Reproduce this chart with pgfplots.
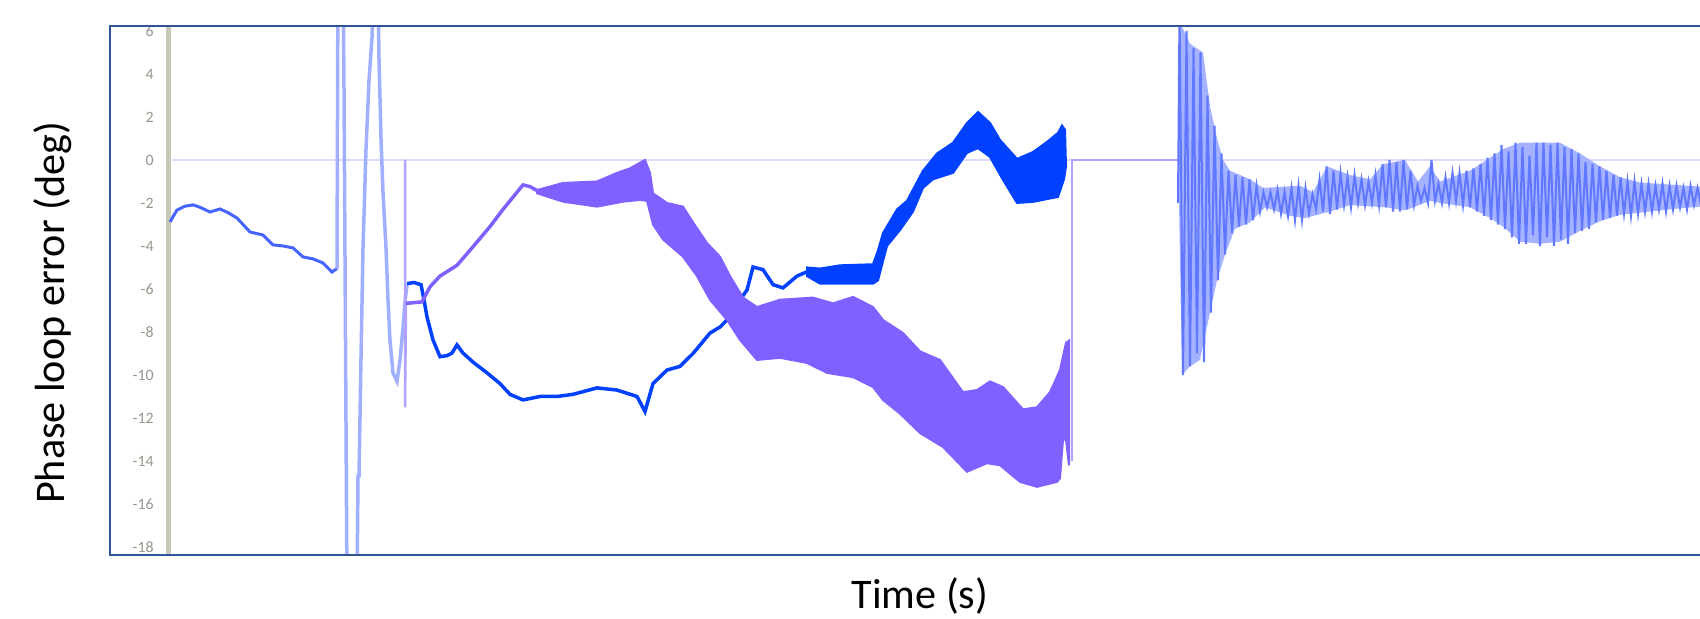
\documentclass[border=0pt]{standalone}
\usepackage{fontspec}
\setmainfont{Carlito}
\usepackage{pgfplots}
\pgfplotsset{compat=1.18}
\definecolor{frameblue}{RGB}{47,85,151}
\definecolor{bargray}{RGB}{200,200,182}
\definecolor{zeroline}{RGB}{222,218,255}
\definecolor{lineblue}{RGB}{70,100,255}
\definecolor{paleblue}{RGB}{160,176,255}
\definecolor{darkblue}{RGB}{0,64,255}
\definecolor{purp}{RGB}{128,96,255}
\definecolor{lav}{RGB}{178,162,255}
\definecolor{oscblue}{RGB}{95,120,255}
\definecolor{oscfill}{RGB}{165,178,255}
\definecolor{tickgray}{RGB}{150,150,140}
\begin{document}
\begin{tikzpicture}
\useasboundingbox (0,0) rectangle (170mm,61.9mm);
\begin{axis}[
  at={(11mm,6.4mm)}, anchor=south west,
  scale only axis, width=161mm, height=52.9mm,
  xmin=110, xmax=1720, ymin=-18.37, ymax=6.23,
  axis line style={draw=none},
  xtick=\empty,
  ytick={-18,-16,...,6},
  major tick length=0pt,
  /pgf/number format/assume math mode=true,
  yticklabel style={font=\fontsize{4.5}{5}\selectfont, text=tickgray, anchor=east, xshift=5.6mm},
  clip=true,
]
% zero reference line
\addplot[draw=zeroline, line width=0.25mm] coordinates {(172,0) (1720,0)};
% left gray bar
\addplot[draw=bargray, line width=0.5mm] coordinates {(168,-19) (168,7)};
% initial blue trace
\addplot[draw=lineblue, line width=0.3mm] coordinates {
(170,-2.88) (177,-2.33) (185,-2.15) (193,-2.09) (200,-2.2) (210,-2.42) (220,-2.28)
(228,-2.45) (237,-2.70) (250,-3.35) (263,-3.49) (273,-3.95) (283,-4.0) (293,-4.09)
(303,-4.51) (313,-4.6) (323,-4.79) (332,-5.21) (337,-5.05)};
% first oscillation (pale)
\addplot[draw=paleblue, line width=0.35mm] coordinates {
(337,-5.05) (338,9) (343,9) (344,3.3) (347,-20) (357,-20) (358,-14.7) (359,-14.7)
(361,-9.2) (363,-4.1) (366,0.5) (369,3.7) (372,5.7) (374,8) (378,8) (379,4.7)
(381,1) (383,-1.5) (386,-4.1) (388,-6.5) (390,-8.4) (393,-9.9) (397,-10.3)
(400,-9.3) (403,-7.8) (405,-6.6) (407,-5.8)};
% main blue trace
\addplot[draw=darkblue, line width=0.35mm] coordinates {
(407,-5.75) (414,-5.7) (421,-5.8) (424,-6.5) (427,-7.3) (433,-8.37) (440,-9.15)
(447,-9.1) (452,-8.98) (457,-8.6) (463,-8.98) (473,-9.4) (487,-9.9) (500,-10.4)
(510,-10.9) (523,-11.16) (540,-11.0) (557,-11.0) (573,-10.9) (597,-10.6) (617,-10.7)
(637,-11.0) (645,-11.7) (653,-10.4) (667,-9.77) (680,-9.6) (693,-9.0) (710,-8.05)
(720,-7.77) (727,-7.44) (740,-6.5) (747,-6.05) (753,-4.98) (763,-5.1) (773,-5.8)
(783,-5.95) (797,-5.4) (807,-5.2)};
% blue band
\addplot[draw=darkblue, line width=0.2mm, fill=darkblue] coordinates {
(807,-5.0) (820,-5.05) (840,-4.9) (873,-4.85) (878,-4.2) (883,-3.4) (897,-2.3)
(907,-1.9) (915,-1.2) (923,-0.5) (937,0.3) (953,0.8) (967,1.72) (978,2.23) (990,1.72)
(1000,0.93) (1017,0.05) (1033,0.37) (1047,0.84) (1058,1.26) (1062,1.6) (1065,1.4)
(1066,-0.3) (1064,-0.9) (1058,-1.72) (1033,-1.95) (1017,-2.0) (1003,-0.93) (990,0.14)
(978,0.55) (967,0.33) (953,-0.6) (933,-0.9) (923,-1.3) (913,-2.4) (900,-3.26)
(887,-4.0) (878,-5.6) (873,-5.75) (840,-5.75) (820,-5.75) (807,-5.4)} -- cycle;
% purple: thin vertical and rising line
\addplot[draw=lav, line width=0.25mm] coordinates {(405,0) (405,-11.5) (406,-6.67)};
\addplot[draw=purp, line width=0.35mm] coordinates {
(406,-6.67) (422,-6.6) (430,-5.9) (440,-5.4) (457,-4.9) (470,-4.2) (490,-3.1)
(503,-2.3) (523,-1.16) (530,-1.24) (538,-1.45)};
% purple band
\addplot[draw=purp, line width=0.2mm, fill=purp] coordinates {
(537,-1.4) (563,-1.07) (597,-1.0) (617,-0.6) (630,-0.39) (645,0.0) (650,-0.6)
(653,-1.55) (667,-2.0) (683,-2.17) (693,-2.9) (707,-3.86) (720,-4.5) (730,-5.4)
(743,-6.4) (757,-6.84) (780,-6.5) (813,-6.4) (833,-6.67) (853,-6.37) (873,-6.84)
(883,-7.44) (903,-8.05) (920,-8.9) (940,-9.3) (963,-10.8) (977,-10.7) (990,-10.3)
(1003,-10.56) (1023,-11.6) (1037,-11.5) (1050,-10.8) (1060,-9.77) (1066,-8.5) (1069,-8.4)
(1069,-14.2) (1066,-13.0) (1063,-13.0) (1060,-14.8) (1057,-14.97) (1037,-15.2)
(1020,-14.97) (1000,-14.2) (987,-14.1) (967,-14.5) (943,-13.35) (920,-12.7) (900,-11.8)
(883,-11.16) (873,-10.56) (853,-10.1) (827,-9.9) (807,-9.44) (780,-9.2) (757,-9.3)
(740,-8.37) (727,-7.44) (710,-6.5) (697,-5.4) (683,-4.5) (663,-3.7) (653,-3.0)
(647,-1.9) (640,-1.86) (623,-1.94) (597,-2.17) (563,-1.94) (537,-1.55)} -- cycle;
% purple return to zero
\addplot[draw=lav, line width=0.25mm] coordinates {(1072,-14) (1072,0) (1185,0)};
% second oscillation: envelope shade
\addplot[draw=none, fill=oscfill] coordinates {
(1179,6.5) (1190,5.4) (1203,5.0) (1210,2.5) (1217,1.0) (1223,0) (1230,-0.5) (1250,-0.9)
(1263,-1.3) (1300,-1.2) (1313,-1.5) (1327,-0.3) (1350,-0.7) (1370,-0.9) (1383,-0.2)
(1405,0) (1418,-1.0) (1430,-0.3) (1440,-1.0) (1470,-0.5) (1490,0.1) (1503,0.5)
(1520,0.8) (1560,0.8) (1580,0.3) (1600,-0.3) (1620,-0.8) (1640,-1.05) (1720,-1.3)
(1720,-2.1) (1680,-2.25) (1640,-2.45) (1620,-2.55) (1600,-2.85) (1580,-3.3) (1560,-3.8)
(1540,-3.9) (1520,-3.8) (1503,-3.1) (1490,-2.7) (1470,-2.2) (1440,-2.0) (1430,-1.9)
(1405,-2.35) (1385,-2.2) (1350,-2.1) (1330,-2.4) (1305,-2.7) (1290,-2.6) (1265,-2.2)
(1250,-2.9) (1235,-3.2) (1225,-4.4) (1217,-5.6) (1210,-7.1) (1200,-9.3) (1190,-9.6)
(1182,-10.0) (1179,-2)} -- cycle;
% second oscillation: strokes
\addplot[draw=oscblue, line width=0.2mm] coordinates {
(1178.0,-2) (1179.5,7) (1183,-10.0) (1186.5,6.0) (1190,-9.6) (1193.5,5.2) (1197,-9.0)
(1200.5,5.0) (1204,-9.4) (1207.5,3.0) (1211,-7.1) (1214.5,1.6) (1218,-5.6) (1221.5,0.3)
(1225,-4.4) (1228.5,-0.5) (1232,-3.4) (1235.5,-0.7) (1239,-3.1) (1242.5,-0.8) (1246,-3.0)
(1249.5,-0.9) (1253,-2.8) (1256.5,-1.2) (1260,-2.4) (1263.5,-1.5) (1267,-2.2) (1270.5,-1.5)
(1274,-2.3) (1277.5,-1.4) (1281,-2.5) (1284.5,-1.5) (1288,-2.6) (1291.5,-1.3) (1295,-2.8)
(1298.5,-1.2) (1302,-2.8) (1305.5,-1.3) (1309,-2.5) (1312.5,-1.6) (1316,-2.3) (1319.5,-0.9)
(1323,-2.4) (1326.5,-0.3) (1330,-2.5) (1333.5,-0.5) (1337,-2.3) (1340.5,-0.6) (1344,-2.1)
(1347.5,-0.8) (1351,-2.2) (1354.5,-0.7) (1358,-2.0) (1361.5,-0.9) (1365,-2.1) (1368.5,-1.0)
(1372,-2.0) (1375.5,-0.7) (1379,-2.1) (1382.5,-0.2) (1386,-2.2) (1389.5,0.0) (1393,-2.4)
(1396.5,-0.1) (1400,-2.4) (1403.5,0.0) (1407,-2.3) (1410.5,-0.5) (1414,-2.1) (1417.5,-1.2)
(1421,-1.9) (1424.5,-1.3) (1428,-2.0) (1431.5,0.0) (1435,-1.9) (1438.5,-1.1) (1442,-2.0)
(1445.5,-0.8) (1449,-2.0) (1452.5,-0.6) (1456,-1.9) (1459.5,-0.6) (1463,-2.1) (1466.5,-0.5)
(1470,-2.2) (1473.5,-0.4) (1477,-2.4) (1480.5,-0.2) (1484,-2.6) (1487.5,0.1) (1491,-2.8)
(1494.5,0.3) (1498,-3.0) (1501.5,0.7) (1505,-3.2) (1508.5,0.4) (1512,-3.6) (1515.5,0.8)
(1519,-3.9) (1522.5,0.6) (1526,-3.9) (1529.5,0.2) (1533,-3.5) (1536.5,0.8) (1540,-4.0)
(1543.5,0.8) (1547,-3.6) (1550.5,0.7) (1554,-4.0) (1557.5,0.8) (1561,-3.7) (1564.5,0.6)
(1568,-3.9) (1571.5,0.5) (1575,-3.4) (1578.5,0.3) (1582,-3.3) (1585.5,-0.1) (1589,-3.2)
(1592.5,-0.2) (1596,-2.9) (1599.5,-0.3) (1603,-2.8) (1606.5,-0.5) (1610,-2.7) (1613.5,-0.7)
(1617,-2.6) (1620.5,-0.8) (1624,-2.5) (1627.5,-1.0) (1631,-2.6) (1634.5,-1.0) (1638,-2.5)
(1641.5,-1.1) (1645,-2.4) (1648.5,-1.1) (1652,-2.4) (1655.5,-1.2) (1659,-2.3) (1662.5,-1.1)
(1666,-2.4) (1669.5,-1.2) (1673,-2.3) (1676.5,-1.2) (1680,-2.2) (1683.5,-1.3) (1687,-2.3)
(1690.5,-1.2) (1694,-2.1) (1697.5,-1.3) (1701,-2.1) (1704.5,-1.4)};
\end{axis}
% frame (open to the right, as in the cropped screenshot)
\draw[frameblue, line width=0.7pt] (170mm,59.3mm) -- (11mm,59.3mm) -- (11mm,6.4mm) -- (170mm,6.4mm);
\node[rotate=90, font=\fontsize{12}{14}\selectfont] at (5.3mm,30.6mm) {Phase loop error (deg)};
\node[font=\fontsize{12}{14}\selectfont] at (92mm,2.3mm) {Time (s)};
\end{tikzpicture}
\end{document}
